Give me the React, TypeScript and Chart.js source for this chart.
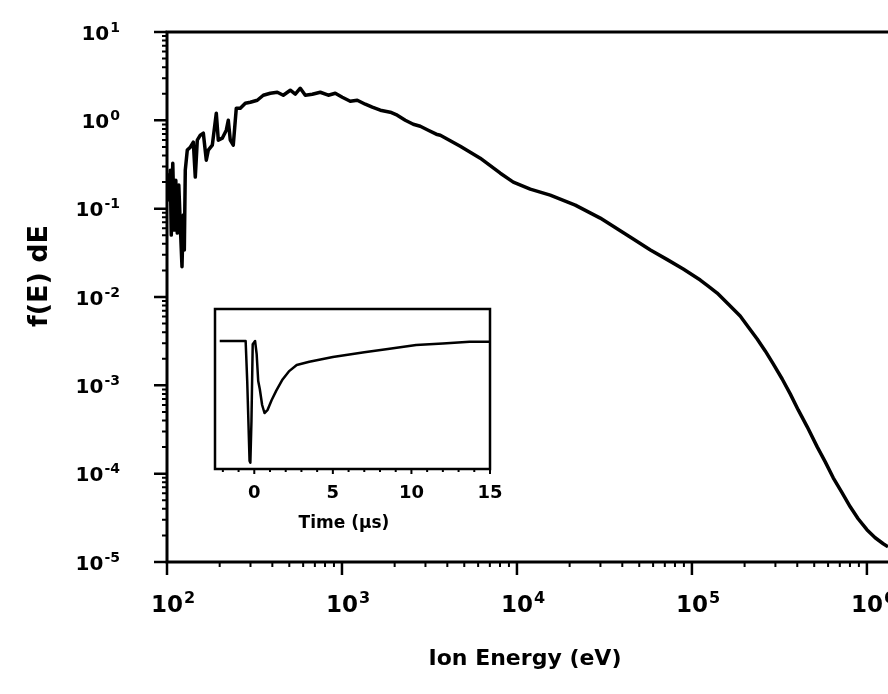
import React, { useEffect, useRef } from 'react';
import { Chart, registerables } from 'chart.js';

Chart.register(...registerables);

// ---- Main spectrum data (ion energy in eV, f(E) dE) ----
const energyEV = [
  100, 101.7, 103.1, 104.4, 105.8, 107.9, 110.1, 112.3, 114.5, 116.8,
  119.1, 121.8, 123.9, 125.6, 127.2, 130.6, 135.9, 141.4, 145.1, 149.0,
  155.0, 161.3, 167.7, 172.2, 181.5, 191.3, 196.4, 207.0, 218.2, 224.0,
  230.0, 239.2, 248.9, 262.4, 280.2, 299.2, 328.1, 355.1, 389.3, 426.9,
  461.9, 506.5, 541.0, 577.8, 617.1, 676.6, 751.6, 835.2, 915.5, 1004,
  1115, 1223, 1359, 1490, 1656, 1888, 2070, 2300, 2555, 2802,
  3112, 3458, 3648, 4743, 6166, 8035, 9530, 11910, 15490, 21540,
  29920, 46200, 57900, 72300, 89200, 111600, 123900, 139400, 161200, 188700,
  209900, 236000, 262400, 291500, 328000, 364600, 405000, 456000, 520000, 578000,
  642000, 722000, 803000, 891000, 1.0e6, 1.115e6, 1.24e6, 1.32e6,
];
const fluxDist = [
  0.180, 0.240, 0.125, 0.273, 0.0502, 0.327, 0.0572, 0.210, 0.0529, 0.185,
  0.0652, 0.0220, 0.0846, 0.0340, 0.273, 0.460, 0.497, 0.566, 0.228, 0.596,
  0.679, 0.715, 0.354, 0.460, 0.523, 1.204, 0.596, 0.628, 0.773, 1.003,
  0.596, 0.523, 1.371, 1.371, 1.562, 1.603, 1.689, 1.924, 2.027, 2.080,
  1.924, 2.191, 1.975, 2.308, 1.924, 1.975, 2.080, 1.924, 2.027, 1.826,
  1.645, 1.689, 1.522, 1.408, 1.302, 1.236, 1.143, 1.003, 0.904, 0.858,
  0.773, 0.697, 0.679, 0.510, 0.373, 0.252, 0.1998, 0.1664, 0.1423, 0.1097,
  0.0782, 0.0453, 0.0340, 0.0265, 0.0207, 0.01556, 0.0133, 0.01109, 0.00833, 0.00610,
  0.00458, 0.00335, 0.00245, 0.001746, 0.00118, 0.000800, 0.000527, 0.000339, 0.000201, 0.000136,
  8.97e-5, 6.07e-5, 4.22e-5, 3.09e-5, 2.32e-5, 1.88e-5, 1.61e-5, 1.49e-5,
];

// ---- Axis ticks ----
const xExponents = [2, 3, 4, 5, 6];
const yExponents = [1, 0, -1, -2, -3, -4, -5];
const minorMultipliers = [2, 3, 4, 5, 6, 7, 8, 9];
const xMin = 100;
const xMax = 1.32e6;
const yMin = 1e-5;
const yMax = 10;

// ---- Inset data (time in µs, signal arbitrary units) ----
const insetTime = [
  -2.2, -0.55, -0.45, -0.3, -0.25, -0.18, -0.1, 0.05, 0.15, 0.25,
  0.35, 0.5, 0.65, 0.85, 1.1, 1.4, 1.8, 2.2, 2.7, 3.5,
  5, 7, 8.5, 10.3, 12, 13.7, 15,
];
const insetSignal = [
  0.80, 0.80, 0.55, 0.05, 0.04, 0.30, 0.78, 0.80, 0.72, 0.55,
  0.50, 0.40, 0.35, 0.37, 0.43, 0.49, 0.56, 0.61, 0.65, 0.67,
  0.70, 0.73, 0.75, 0.775, 0.785, 0.795, 0.795,
];
const insetTicks = [0, 5, 10, 15];
const insetMinorTicks = [-2, -1, 1, 2, 3, 4, 6, 7, 8, 9, 11, 12, 13, 14];

// ---- Texts ----
const xTitle = 'Ion Energy (eV)';
const yTitle = 'f(E) dE';
const insetTitle = 'Time (µs)';

const FONT = '"DejaVu Sans", sans-serif';

function drawPower(
  ctx: CanvasRenderingContext2D,
  exp: number,
  x: number,
  baseline: number,
  size: number,
  mode: 'right' | 'center'
) {
  const base = '10';
  const sup = String(exp);
  const supSize = Math.round(size * 0.7);
  ctx.font = `bold ${size}px ${FONT}`;
  const wb = ctx.measureText(base).width;
  ctx.font = `bold ${supSize}px ${FONT}`;
  const ws = ctx.measureText(sup).width;
  const x0 = mode === 'right' ? x - wb - ws - 1 : x - wb / 2;
  ctx.textAlign = 'left';
  ctx.textBaseline = 'alphabetic';
  ctx.font = `bold ${size}px ${FONT}`;
  ctx.fillText(base, x0, baseline);
  ctx.font = `bold ${supSize}px ${FONT}`;
  ctx.fillText(sup, x0 + wb + 1, baseline - size * 0.4);
}

const mainDecor = {
  id: 'mainDecor',
  afterDraw(chart: any) {
    const { ctx, chartArea: a } = chart;
    const xs = chart.scales.x;
    const ys = chart.scales.y;
    ctx.save();
    ctx.strokeStyle = '#000';
    ctx.fillStyle = '#000';
    ctx.lineCap = 'butt';
    // frame: top, left, bottom
    ctx.lineWidth = 3;
    ctx.beginPath();
    ctx.moveTo(a.left - 1.5, a.top);
    ctx.lineTo(a.right, a.top);
    ctx.moveTo(a.left, a.top);
    ctx.lineTo(a.left, a.bottom + 1.5);
    ctx.moveTo(a.left - 1.5, a.bottom);
    ctx.lineTo(a.right, a.bottom);
    ctx.stroke();
    // major ticks
    ctx.lineWidth = 2.5;
    ctx.beginPath();
    yExponents.forEach((e) => {
      const p = ys.getPixelForValue(Math.pow(10, e));
      ctx.moveTo(a.left - 13, p);
      ctx.lineTo(a.left, p);
    });
    xExponents.forEach((e) => {
      const p = xs.getPixelForValue(Math.pow(10, e));
      ctx.moveTo(p, a.bottom);
      ctx.lineTo(p, a.bottom + 13);
    });
    ctx.stroke();
    // minor ticks
    ctx.lineWidth = 2;
    ctx.beginPath();
    yExponents.forEach((e) => {
      minorMultipliers.forEach((m) => {
        const v = m * Math.pow(10, e);
        if (v <= yMin || v >= yMax) return;
        const p = ys.getPixelForValue(v);
        ctx.moveTo(a.left - 5, p);
        ctx.lineTo(a.left, p);
      });
    });
    xExponents.forEach((e) => {
      minorMultipliers.forEach((m) => {
        const v = m * Math.pow(10, e);
        if (v <= xMin || v >= xMax) return;
        const p = xs.getPixelForValue(v);
        ctx.moveTo(p, a.bottom);
        ctx.lineTo(p, a.bottom + 5);
      });
    });
    ctx.stroke();
    // tick labels
    yExponents.forEach((e) => {
      const p = ys.getPixelForValue(Math.pow(10, e));
      drawPower(ctx, e, 120, p + 7.5, 20, 'right');
    });
    xExponents.forEach((e) => {
      const p = xs.getPixelForValue(Math.pow(10, e));
      drawPower(ctx, e, p, 612, 23, 'center');
    });
    // axis titles
    ctx.font = `bold 22px ${FONT}`;
    ctx.textAlign = 'center';
    ctx.textBaseline = 'alphabetic';
    ctx.fillText(xTitle, 525, 665);
    ctx.save();
    ctx.translate(40, 276);
    ctx.rotate(-Math.PI / 2);
    ctx.font = `bold 27px ${FONT}`;
    ctx.textBaseline = 'middle';
    ctx.fillText(yTitle, 0, 0);
    ctx.restore();
    ctx.restore();
  },
};

const insetDecor = {
  id: 'insetDecor',
  beforeDraw(chart: any) {
    const { ctx, chartArea: a } = chart;
    ctx.save();
    ctx.fillStyle = '#fff';
    ctx.fillRect(a.left, a.top, a.right - a.left, a.bottom - a.top);
    ctx.restore();
  },
  afterDraw(chart: any) {
    const { ctx, chartArea: a } = chart;
    const xs = chart.scales.x;
    ctx.save();
    ctx.strokeStyle = '#000';
    ctx.fillStyle = '#000';
    ctx.lineWidth = 2.5;
    ctx.strokeRect(a.left, a.top, a.right - a.left, a.bottom - a.top);
    ctx.lineWidth = 2;
    ctx.beginPath();
    insetTicks.forEach((t) => {
      const p = xs.getPixelForValue(t);
      ctx.moveTo(p, a.bottom);
      ctx.lineTo(p, a.bottom + 5);
    });
    insetMinorTicks.forEach((t) => {
      const p = xs.getPixelForValue(t);
      ctx.moveTo(p, a.bottom);
      ctx.lineTo(p, a.bottom + 3);
    });
    ctx.stroke();
    ctx.font = `bold 18px ${FONT}`;
    ctx.textAlign = 'center';
    ctx.textBaseline = 'alphabetic';
    insetTicks.forEach((t) => {
      const p = xs.getPixelForValue(t);
      ctx.fillText(String(t), p, a.bottom + 29);
    });
    ctx.font = `bold 17px ${FONT}`;
    ctx.fillText(insetTitle, 164, a.bottom + 59);
    ctx.restore();
  },
};

export default function App() {
  const mainRef = useRef<HTMLCanvasElement>(null);
  const insetRef = useRef<HTMLCanvasElement>(null);

  useEffect(() => {
    const main = new Chart(mainRef.current as HTMLCanvasElement, {
      type: 'line',
      data: {
        datasets: [
          {
            data: energyEV.map((e, i) => ({ x: e, y: fluxDist[i] })),
            borderColor: '#000',
            borderWidth: 3.5,
            borderJoinStyle: 'round',
            pointRadius: 0,
            tension: 0,
            fill: false,
          },
        ],
      },
      options: {
        responsive: false,
        animation: false,
        devicePixelRatio: 1,
        events: [],
        layout: { padding: { left: 167, top: 32, right: 0, bottom: 132 } },
        plugins: { legend: { display: false }, tooltip: { enabled: false } },
        scales: {
          x: { type: 'logarithmic', min: xMin, max: xMax, display: false, bounds: 'data' },
          y: { type: 'logarithmic', min: yMin, max: yMax, display: false, bounds: 'data' },
        },
      },
      plugins: [mainDecor],
    } as any);

    const inset = new Chart(insetRef.current as HTMLCanvasElement, {
      type: 'line',
      data: {
        datasets: [
          {
            data: insetTime.map((t, i) => ({ x: t, y: insetSignal[i] })),
            borderColor: '#000',
            borderWidth: 2.5,
            borderJoinStyle: 'round',
            pointRadius: 0,
            tension: 0,
            fill: false,
          },
        ],
      },
      options: {
        responsive: false,
        animation: false,
        devicePixelRatio: 1,
        events: [],
        layout: { padding: { left: 35, top: 14, right: 20, bottom: 76 } },
        plugins: { legend: { display: false }, tooltip: { enabled: false } },
        scales: {
          x: { type: 'linear', min: -2.5, max: 15, display: false, bounds: 'data' },
          y: { type: 'linear', min: 0, max: 1, display: false, bounds: 'data' },
        },
      },
      plugins: [insetDecor],
    } as any);

    return () => {
      main.destroy();
      inset.destroy();
    };
  }, []);

  return (
    <div style={{ position: 'fixed', left: 0, top: 0, width: 888, height: 694, background: '#fff' }}>
      <canvas ref={mainRef} width={888} height={694} style={{ position: 'absolute', left: 0, top: 0 }} />
      <canvas ref={insetRef} width={330} height={250} style={{ position: 'absolute', left: 180, top: 295 }} />
    </div>
  );
}
